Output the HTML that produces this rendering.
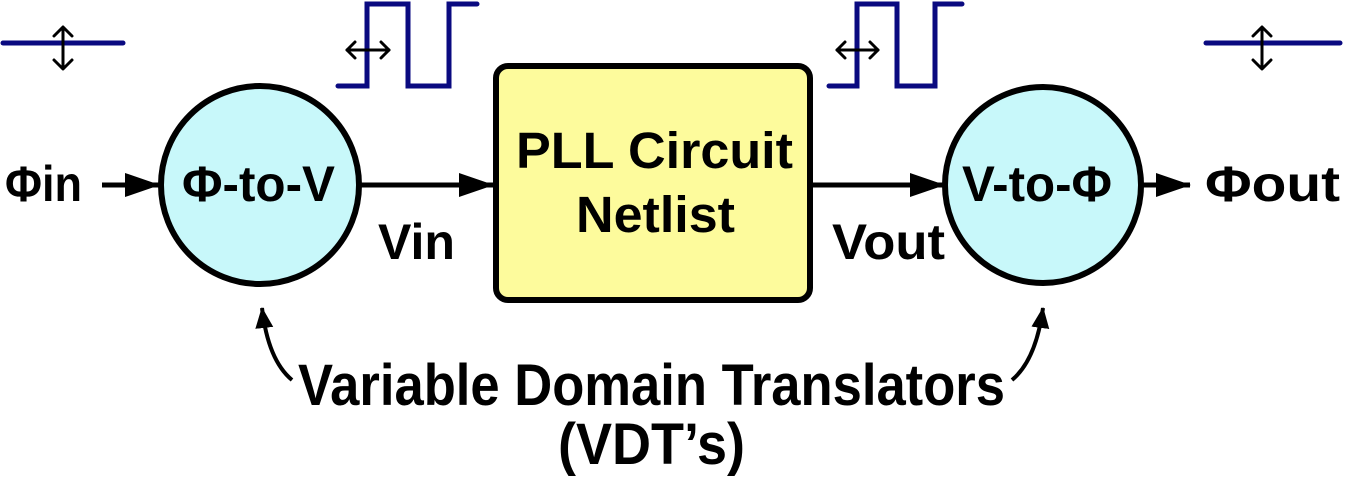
<!DOCTYPE html>
<html><head><meta charset="utf-8"><style>html,body{margin:0;padding:0;background:#fff}svg{display:block}</style></head>
<body>
<svg width="1346" height="483" viewBox="0 0 1346 483" xmlns="http://www.w3.org/2000/svg" font-family="Liberation Sans, sans-serif" font-weight="bold">
<defs>
<marker id="ah" markerWidth="36" markerHeight="26" refX="34" refY="13" orient="auto" markerUnits="userSpaceOnUse" viewBox="0 0 36 26"><path d="M0,1 L35,13 L0,25 z" fill="#000"/></marker>
<marker id="ah2" markerWidth="22" markerHeight="20" refX="20" refY="10" orient="auto" markerUnits="userSpaceOnUse" viewBox="0 0 22 20"><path d="M0,1 L21,10 L0,19 z" fill="#000"/></marker>
</defs>
<g stroke="#0a0a80" stroke-width="5" fill="none" stroke-linecap="round">
<line x1="3" y1="43" x2="123" y2="43"/>
<line x1="1206" y1="43" x2="1340" y2="43"/>
<polyline points="338,86 367,86 367,4 408,4 408,86 449,86 449,4 477,4"/>
<polyline points="829,86 857,86 857,4 897,4 897,86 935,86 935,4 962,4"/>
</g>
<g stroke="#000" stroke-width="3" fill="none" stroke-linecap="round" stroke-linejoin="round">
<line x1="63" y1="28" x2="63" y2="68"/><polyline points="54,36 63,27 72,36"/><polyline points="54,60 63,69 72,60"/>
<line x1="1262" y1="28" x2="1262" y2="68"/><polyline points="1253,36 1262,27 1271,36"/><polyline points="1253,60 1262,69 1271,60"/>
<line x1="347" y1="50" x2="389" y2="50"/><polyline points="355,42 347,50 355,58"/><polyline points="381,42 389,50 381,58"/>
<line x1="837" y1="50" x2="878" y2="50"/><polyline points="845,42 837,50 845,58"/><polyline points="870,42 878,50 870,58"/>
</g>
<g stroke="#000" stroke-width="5">
<line x1="102" y1="185" x2="159" y2="185" marker-end="url(#ah)"/>
<line x1="360" y1="185" x2="493" y2="185" marker-end="url(#ah)"/>
<line x1="813" y1="185" x2="944" y2="185" marker-end="url(#ah)"/>
<line x1="1133" y1="185" x2="1190" y2="185" marker-end="url(#ah)"/>
</g>
<circle cx="260" cy="185" r="99" fill="#c8f8fa" stroke="#000" stroke-width="6"/>
<circle cx="1043" cy="185" r="98" fill="#c8f8fa" stroke="#000" stroke-width="6"/>
<rect x="496" y="66" width="314" height="234" rx="12" fill="#fdfb9c" stroke="#000" stroke-width="6"/>
<g stroke="#000" stroke-width="4" fill="none">
<path d="M292,380 Q268,360 262,308" marker-end="url(#ah2)"/>
<path d="M1012,380 Q1036,360 1043,308" marker-end="url(#ah2)"/>
</g>
<g fill="#000" font-size="50">
<text x="5" y="201" textLength="77" lengthAdjust="spacingAndGlyphs">Φin</text>
<text x="182" y="201" textLength="153" lengthAdjust="spacingAndGlyphs">Φ-to-V</text>
<text x="378" y="259" textLength="77" lengthAdjust="spacingAndGlyphs">Vin</text>
<text x="832" y="259" textLength="113" lengthAdjust="spacingAndGlyphs">Vout</text>
<text x="962" y="201" textLength="150" lengthAdjust="spacingAndGlyphs">V-to-Φ</text>
<text x="1205" y="201" textLength="135" lengthAdjust="spacingAndGlyphs">Φout</text>
</g>
<g fill="#000" font-size="51">
<text x="516" y="168" textLength="277" lengthAdjust="spacingAndGlyphs">PLL Circuit</text>
<text x="576" y="232" textLength="159" lengthAdjust="spacingAndGlyphs">Netlist</text>
</g>
<g fill="#000" font-size="58">
<text x="298" y="405" textLength="707" lengthAdjust="spacingAndGlyphs">Variable Domain Translators</text>
<text x="558" y="464" textLength="187" lengthAdjust="spacingAndGlyphs">(VDT’s)</text>
</g>
</svg>
</body></html>
